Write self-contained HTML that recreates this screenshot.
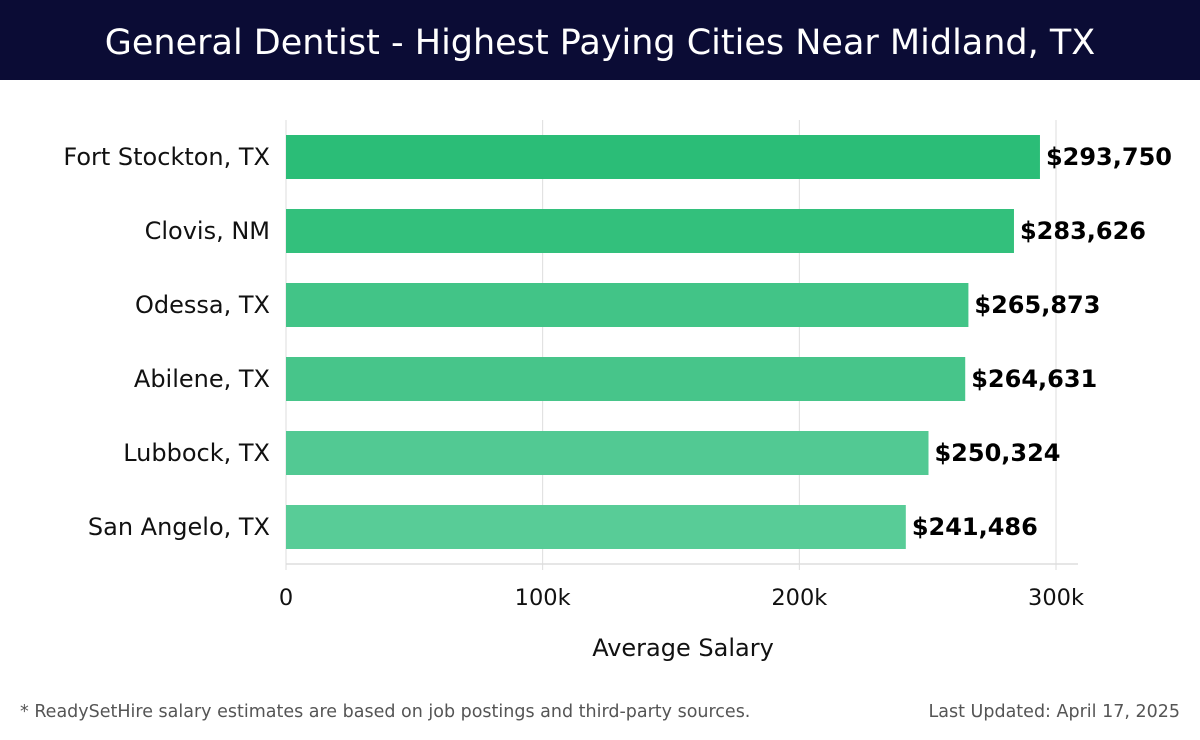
<!DOCTYPE html>
<html><head><meta charset="utf-8"><style>
body{margin:0;width:1200px;height:740px;background:#fff;font-family:"DejaVu Sans","Liberation Sans",sans-serif;overflow:hidden}
#hdr{position:absolute;left:0;top:0;width:1200px;height:80px;background:#0b0c35;color:#fff;font-size:35px;text-align:center;line-height:86px;font-family:"DejaVu Sans","Liberation Sans",sans-serif;font-weight:normal}
.ft{position:absolute;top:702px;font-size:17.5px;color:#555}
</style></head><body>
<div id="hdr">General Dentist - Highest Paying Cities Near Midland, TX</div>
<svg id="c" width="1200" height="740" style="position:absolute;left:0;top:0"></svg>
<div class="ft" style="left:20px">* ReadySetHire salary estimates are based on job postings and third-party sources.</div>
<div class="ft" style="right:20px">Last Updated: April 17, 2025</div>
<script>
const categories=["Fort Stockton, TX","Clovis, NM","Odessa, TX","Abilene, TX","Lubbock, TX","San Angelo, TX"];
const values=[293750,283626,265873,264631,250324,241486];
const ticks=[0,100000,200000,300000];
const tickLabels=["0","100k","200k","300k"];
const colors=["#2bbd77","#33c07c","#42c487","#47c58a","#52c993","#58cc97"];
const svg=document.getElementById('c');const NS="http://www.w3.org/2000/svg";
const x0=286,x1=1056,xmax=300000;
const xs=v=>x0+(x1-x0)*v/xmax;
const yc=i=>157+74*i;
function mk(t,a,p){const e=document.createElementNS(NS,t);for(const k in a)e.setAttribute(k,a[k]);(p||svg).appendChild(e);return e;}
ticks.forEach((t,i)=>{
 const g=mk('line',{x1:xs(t),x2:xs(t),y1:120,y2:570,stroke:'#ddd','stroke-width':1});
 
 
 const l=mk('text',{x:xs(t),y:605,'text-anchor':'middle','font-size':22.5,fill:'#111'});l.textContent=tickLabels[i];
 
 
});
const ax=mk('line',{x1:286,x2:1078,y1:564,y2:564,stroke:'#ddd','stroke-width':1.5});


categories.forEach((c,i)=>{
 const r=mk('rect',{x:x0,y:yc(i)-22,width:xs(values[i])-x0,height:44,fill:colors[i]});
 
 
 const l=mk('text',{x:270,y:yc(i)+8,'text-anchor':'end','font-size':24,fill:'#111'});l.textContent=c;
 
 
 const v=mk('text',{x:xs(values[i])+6,y:yc(i)+8,'font-size':24,'font-weight':'bold',fill:'#000'});v.textContent='$'+values[i].toLocaleString('en-US');
 
 
});
const t=mk('text',{x:683,y:656,'text-anchor':'middle','font-size':24,fill:'#111'});t.textContent='Average Salary';


</script>
</body></html>
